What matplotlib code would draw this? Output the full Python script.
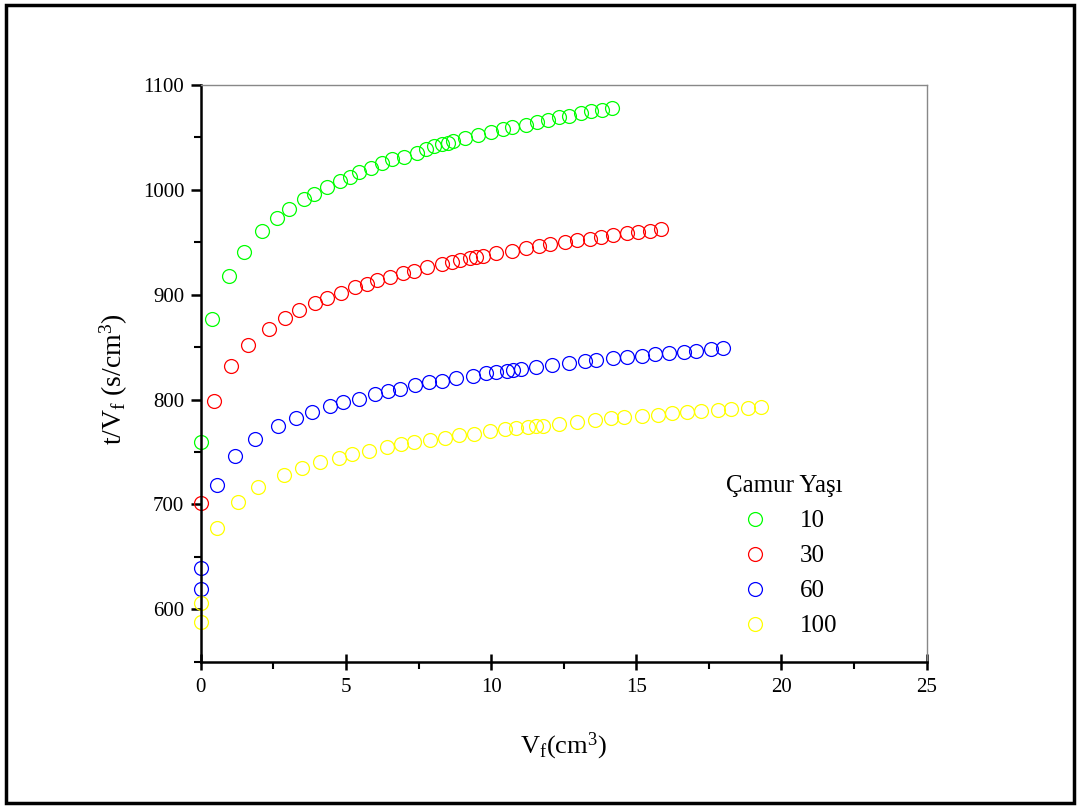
import matplotlib
matplotlib.use('Agg')
import matplotlib.pyplot as plt
from matplotlib.patches import Rectangle
from matplotlib.ticker import MultipleLocator

plt.rcParams['font.family'] = ['Liberation Serif', 'DejaVu Serif']
plt.rcParams['mathtext.fontset'] = 'custom'
plt.rcParams['mathtext.rm'] = 'Liberation Serif'
plt.rcParams['mathtext.it'] = 'Liberation Serif:italic'

# camur yasi 10
vf_10 = [0.02, 0.40, 0.96, 1.49, 2.12, 2.61, 3.04, 3.55, 3.90, 4.33, 4.79, 5.13,
         5.45, 5.86, 6.23, 6.59, 6.98, 7.43, 7.77, 8.03, 8.32, 8.52, 8.69, 9.10,
         9.55, 10.01, 10.41, 10.73, 11.19, 11.58, 11.96, 12.32, 12.68, 13.09,
         13.43, 13.83, 14.16]
tv_10 = [760, 877, 918, 941, 961, 973, 982, 991, 996, 1002.5, 1008.5, 1012.6,
         1016.8, 1021.2, 1025.4, 1029.2, 1031.4, 1035.5, 1039, 1041.8, 1043.5,
         1045, 1046.3, 1049.2, 1052.3, 1054.9, 1057.8, 1060, 1062.2, 1064.7,
         1066.6, 1069.2, 1070.7, 1073, 1074.9, 1076.5, 1077.8]

# camur yasi 30
vf_30 = [0.02, 0.45, 1.04, 1.64, 2.35, 2.89, 3.39, 3.94, 4.33, 4.81, 5.31, 5.71,
         6.07, 6.52, 6.97, 7.35, 7.78, 8.29, 8.65, 8.94, 9.27, 9.49, 9.72, 10.18,
         10.70, 11.19, 11.65, 12.02, 12.53, 12.97, 13.40, 13.78, 14.21, 14.68,
         15.06, 15.48, 15.85]
tv_30 = [701, 799, 832, 852, 867, 878, 885.5, 892, 897, 902, 907, 910.5, 914,
         917, 920.5, 923, 926, 929.4, 931.3, 933, 935, 936.4, 937.3, 940, 942,
         944.6, 946.8, 948.4, 950.3, 952, 953.5, 955, 956.7, 958.6, 960, 961,
         962.7]

# camur yasi 60
vf_60 = [0.02, 0.02, 0.54, 1.19, 1.87, 2.66, 3.27, 3.83, 4.45, 4.90, 5.44, 6.00,
         6.45, 6.85, 7.38, 7.87, 8.32, 8.80, 9.38, 9.81, 10.15, 10.53, 10.75,
         11.01, 11.54, 12.11, 12.67, 13.22, 13.60, 14.21, 14.69, 15.21, 15.63,
         16.12, 16.64, 17.07, 17.56, 17.99]
tv_60 = [619, 639, 719, 746, 762, 775, 782, 788, 794, 797.5, 801, 805.7, 808,
         810.5, 813.7, 816.6, 818, 820.4, 822.6, 825, 826, 827.4, 828, 829.3,
         831.2, 833, 835, 836.6, 837.6, 839.8, 841, 842, 843.3, 844.5, 845.8,
         846.7, 848.3, 849.3]

# camur yasi 100
vf_100 = [0.02, 0.02, 0.57, 1.29, 1.97, 2.85, 3.50, 4.10, 4.75, 5.22, 5.80,
          6.42, 6.89, 7.33, 7.89, 8.41, 8.88, 9.40, 9.95, 10.49, 10.85, 11.27,
          11.54, 11.77, 12.34, 12.94, 13.57, 14.14, 14.57, 15.21, 15.73, 16.24,
          16.73, 17.24, 17.81, 18.27, 18.83, 19.28]
tv_100 = [588, 606.5, 678, 702.5, 716.5, 728, 735, 740, 744.7, 748, 751.4, 755,
          757.5, 759.4, 761.6, 763.8, 766, 767.3, 770, 771.8, 772.7, 774, 774.6,
          775.2, 777, 778.4, 780.3, 782.3, 783.2, 784.2, 785.7, 787, 788, 789,
          790, 791, 792, 792.7]

labels = ['10', '30', '60', '100']
colors = ['#00ff00', '#ff0000', '#0000ff', '#ffff00']
series = [(vf_10, tv_10), (vf_30, tv_30), (vf_60, tv_60), (vf_100, tv_100)]

fig = plt.figure(figsize=(10.8, 8.09), dpi=100)
ax = fig.add_axes([0.186, 0.182, 0.672, 0.713])

for (x, y), lab, col in zip(series, labels, colors):
    ax.plot(x, y, linestyle='none', marker='o', markersize=10,
            markerfacecolor='none', markeredgecolor=col, markeredgewidth=0.9,
            label=lab, clip_on=False)

ax.set_xlim(0, 25)
ax.set_ylim(550, 1100)
ax.xaxis.set_major_locator(MultipleLocator(5))
ax.xaxis.set_minor_locator(MultipleLocator(2.5))
ax.yaxis.set_major_locator(MultipleLocator(100))
ax.yaxis.set_minor_locator(MultipleLocator(50))

ax.spines['left'].set_linewidth(1.8)
ax.spines['bottom'].set_linewidth(1.8)
for s in ['top', 'right']:
    ax.spines[s].set_color('#888888')
    ax.spines[s].set_linewidth(1.0)

ax.tick_params(axis='x', which='major', direction='inout', length=12, width=1.8,
               labelsize=15, pad=6)
ax.tick_params(axis='x', which='minor', direction='out', length=5, width=1.5)
ax.tick_params(axis='y', which='major', direction='out', length=7, width=1.8,
               labelsize=15, pad=5)
ax.tick_params(axis='y', which='minor', direction='out', length=5, width=1.5)

ax.set_xlabel('V$_\\mathrm{f}$(cm$^\\mathrm{3}$)', fontsize=19, labelpad=24)
ax.set_ylabel('t/V$_\\mathrm{f}$ (s/cm$^\\mathrm{3}$)', fontsize=20)
ax.yaxis.set_label_coords(-0.098, 0.49)

leg = ax.legend(title='Çamur Yaşı', loc='upper left', bbox_to_anchor=(0.692, 0.362),
                frameon=False, fontsize=18, title_fontsize=18, labelspacing=0.5,
                handlelength=2.0, handletextpad=0.8, borderpad=0.4)
leg._legend_box.align = 'center'

# outer frame around the whole picture
fig.patches.append(Rectangle((0.006, 0.007), 0.988, 0.987, transform=fig.transFigure,
                             fill=False, edgecolor='black', linewidth=2.5))

fig.savefig('out.png', dpi=100)
